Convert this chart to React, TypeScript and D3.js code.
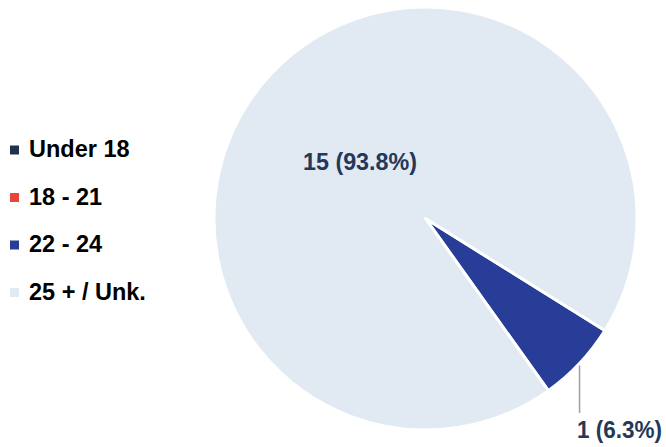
import React from "react";
import * as d3 from "d3";

const categories = ["Under 18", "18 - 21", "22 - 24", "25 + / Unk."];
const values = [0, 0, 1, 15];
const colors = ["#1f3350", "#e8443a", "#283d98", "#e1e9f3"];

export default function App() {
  const W = 666, H = 447;
  const cx = 425.5, cy = 218.5, r = 211.5;
  const total = d3.sum(values);
  const start = (122 * Math.PI) / 180;
  const pie = d3.pie<number>().sort(null).value((d) => d).startAngle(start).endAngle(start + 2 * Math.PI);
  const arcs = pie(values);
  const arcGen = d3.arc<d3.PieArcDatum<number>>().innerRadius(0).outerRadius(r);
  const fmt = (v: number) => `${v} (${((v / total) * 100).toFixed(1)}%)`;
  const font = "'Liberation Sans', Arial, sans-serif";
  return (
    <svg width={W} height={H} style={{ position: "absolute", left: 0, top: 0 }}>
      <g transform={`translate(${cx},${cy})`}>
        {arcs.map((a, i) =>
          a.value > 0 ? (
            <path key={i} d={arcGen(a) || ""} fill={colors[i]} stroke="#fff" strokeWidth={3} strokeLinejoin="round" />
          ) : null
        )}
        {arcs.map((a, i) => {
          if (a.value <= 0) return null;
          const mid = (a.startAngle + a.endAngle) / 2;
          const frac = a.value / total;
          if (frac > 0.5) {
            return (
              <text key={"t" + i} x={360 - cx} y={170 - cy} textAnchor="middle" fontFamily={font} fontWeight="bold" fontSize={23.5} fill="#253858" textLength={114} lengthAdjust="spacingAndGlyphs">
                {fmt(a.value)}
              </text>
            );
          }
          const x0 = r * Math.sin(mid), y0 = -r * Math.cos(mid);
          return (
            <g key={"t" + i}>
              <line x1={x0} y1={y0 + 2} x2={x0} y2={413 - cy} stroke="#a0a0a0" strokeWidth={1.5} />
              <text x={619.5 - cx} y={438 - cy} textAnchor="middle" fontFamily={font} fontWeight="bold" fontSize={23.5} fill="#253858" textLength={85} lengthAdjust="spacingAndGlyphs">
                {fmt(a.value)}
              </text>
            </g>
          );
        })}
      </g>
      {categories.map((c, i) => {
        const y = 150 + i * 47.5;
        return (
          <g key={c}>
            <rect x={10} y={y - 4.5} width={9} height={9} fill={colors[i]} />
            <text x={29} y={y + 7} fontFamily={font} fontWeight="bold" fontSize={23.5} fill="#000">
              {c}
            </text>
          </g>
        );
      })}
    </svg>
  );
}
